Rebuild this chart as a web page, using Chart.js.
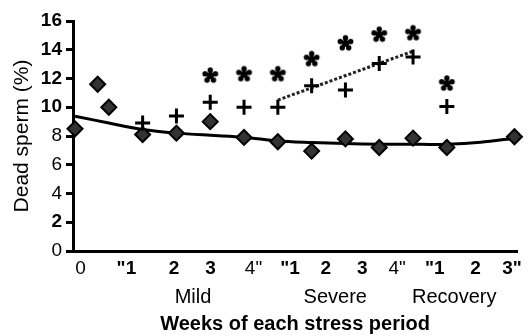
<!DOCTYPE html>
<html>
<head>
<meta charset="utf-8">
<script src="https://cdn.jsdelivr.net/npm/chart.js@4.4.1/dist/chart.umd.min.js"></script>
<style>
    html, body { margin: 0; padding: 0; background: #fff; }
    #wrap { width: 528px; height: 336px; }
</style>
</head>
<body>
<div id="wrap"><canvas id="spermChart"></canvas></div>
<script>
// week position on the x axis (0 = baseline, then mild 1-4, severe 1-4, recovery 1-3)
const diamondWeeks = [0, 0.67, 1, 2, 3, 4, 5, 6, 7, 8, 9, 10, 11, 13];
const diamondValues = [8.5, 11.6, 10.0, 8.1, 8.2, 9.0, 7.9, 7.6, 6.95, 7.8, 7.2, 7.85, 7.2, 7.95];

const plusWeeks = [2, 3, 4, 5, 6, 7, 8, 9, 10, 11];
const plusValues = [8.9, 9.4, 10.35, 10.0, 10.0, 11.5, 11.2, 13.05, 13.5, 10.05];

const starWeeks = [4, 5, 6, 7, 8, 9, 10, 11];
const starValues = [12.2, 12.3, 12.3, 13.35, 14.45, 15.05, 15.15, 11.65];

const trendWeeks = [0, 1, 2, 3, 4, 5, 6, 7, 8, 9, 10, 11, 12, 13];
const trendValues = [9.38, 8.9, 8.45, 8.2, 8.05, 7.92, 7.65, 7.55, 7.48, 7.43, 7.42, 7.43, 7.57, 7.85];

const severeTrendWeeks = [6, 10];
const severeTrendValues = [10.5, 13.9];

const tickWeeks = [0.16, 1.52, 2.93, 4.01, 5.28, 6.36, 7.42, 8.5, 9.53, 10.64, 11.85, 12.93];
const tickLabels = ['0', '"1', '2', '3', '4"', '"1', '2', '3', '4"', '"1', '2', '3"'];
const tickBold = [false, true, true, true, false, true, true, true, false, true, true, true];

const groupWeeks = [3.49, 7.7, 11.22];
const groupLabels = ['Mild', 'Severe', 'Recovery'];

const yBold = [16, 14, 12, 10, 2];

const FONT = "'Liberation Sans', Arial, sans-serif";

function pts(xs, ys) {
    return xs.map((x, i) => ({ x: x, y: ys[i] }));
}

// bold five-point asterisk used as a point style
function makeAsterisk(r) {
    const c = document.createElement('canvas');
    const s = Math.ceil(r * 2 + 4);
    c.width = s;
    c.height = s;
    const g = c.getContext('2d');
    g.translate(s / 2, s / 2);
    g.fillStyle = '#000';
    g.strokeStyle = '#000';
    g.lineWidth = 3.6;
    g.lineCap = 'round';
    for (let k = 0; k < 5; k++) {
        const a = -Math.PI / 2 + k * 2 * Math.PI / 5;
        g.beginPath();
        g.moveTo(0, 0);
        g.lineTo(Math.cos(a) * (r - 3), Math.sin(a) * (r - 3));
        g.stroke();
        g.beginPath();
        g.arc(Math.cos(a) * (r - 3), Math.sin(a) * (r - 3), 2.7, 0, 2 * Math.PI);
        g.fill();
    }
    g.beginPath();
    g.arc(0, 0, 3.2, 0, 2 * Math.PI);
    g.fill();
    return c;
}

const asterisk = makeAsterisk(8.5);

new Chart(document.getElementById('spermChart'), {
    type: 'line',
    data: {
        datasets: [
            {
                data: pts(starWeeks, starValues),
                showLine: false,
                pointStyle: asterisk,
                clip: false
            },
            {
                data: pts(plusWeeks, plusValues),
                showLine: false,
                pointStyle: 'cross',
                pointRadius: 7.5,
                pointBorderWidth: 3,
                pointBorderColor: '#000',
                clip: false
            },
            {
                data: pts(diamondWeeks, diamondValues),
                showLine: false,
                pointStyle: 'rectRot',
                pointRadius: 7.5,
                pointBorderWidth: 2,
                pointBorderColor: '#000',
                pointBackgroundColor: '#333',
                clip: false
            },
            {
                data: pts(severeTrendWeeks, severeTrendValues),
                borderColor: '#222',
                borderWidth: 3,
                borderDash: [3, 2],
                pointRadius: 0,
                clip: false
            },
            {
                data: pts(trendWeeks, trendValues),
                borderColor: '#000',
                borderWidth: 3,
                tension: 0.3,
                pointRadius: 0,
                clip: false
            }
        ]
    },
    options: {
        responsive: true,
        maintainAspectRatio: false,
        animation: false,
        layout: { padding: { top: 21, right: 7, bottom: 0, left: 0 } },
        plugins: {
            legend: { display: false },
            tooltip: { enabled: false }
        },
        scales: {
            x: {
                type: 'linear',
                position: 'bottom',
                min: -0.06,
                max: 13.08,
                afterBuildTicks: axis => { axis.ticks = tickWeeks.map(v => ({ value: v })); },
                afterFit: axis => { axis.height = 30; },
                grid: { display: false, drawTicks: false },
                border: { display: true, color: '#000', width: 3 },
                ticks: {
                    autoSkip: false,
                    maxRotation: 0,
                    minRotation: 0,
                    padding: 6,
                    color: '#000',
                    font: ctx => ({ family: FONT, size: 19, weight: tickBold[ctx.index] ? 'bold' : 'normal' }),
                    callback: (v, i) => tickLabels[i]
                }
            },
            x2: {
                type: 'linear',
                position: 'bottom',
                weight: 1,
                min: -0.06,
                max: 13.08,
                afterBuildTicks: axis => { axis.ticks = groupWeeks.map(v => ({ value: v })); },
                afterFit: axis => { axis.height = 55; },
                grid: { display: false, drawTicks: false },
                border: { display: false },
                ticks: {
                    autoSkip: false,
                    maxRotation: 0,
                    minRotation: 0,
                    padding: 4,
                    color: '#000',
                    font: { family: FONT, size: 20 },
                    callback: (v, i) => groupLabels[i]
                },
                title: {
                    display: true,
                    text: 'Weeks of each stress period',
                    color: '#000',
                    font: { family: FONT, size: 20, weight: 'bold' },
                    padding: { top: 0, bottom: 0 }
                }
            },
            y: {
                min: 0,
                max: 16,
                afterFit: axis => { axis.width = 73; },
                grid: {
                    drawOnChartArea: false,
                    drawTicks: true,
                    tickLength: 7,
                    lineWidth: 3,
                    color: '#000'
                },
                border: { display: true, color: '#000', width: 3 },
                ticks: {
                    stepSize: 2,
                    padding: 4,
                    color: '#000',
                    font: ctx => ({ family: FONT, size: 19, weight: yBold.includes(ctx.tick && ctx.tick.value) ? 'bold' : 'normal' })
                },
                title: {
                    display: true,
                    text: 'Dead sperm (%)',
                    color: '#000',
                    font: { family: FONT, size: 21 },
                    padding: { top: 10, bottom: 0 }
                }
            }
        }
    }
});
</script>
</body>
</html>
